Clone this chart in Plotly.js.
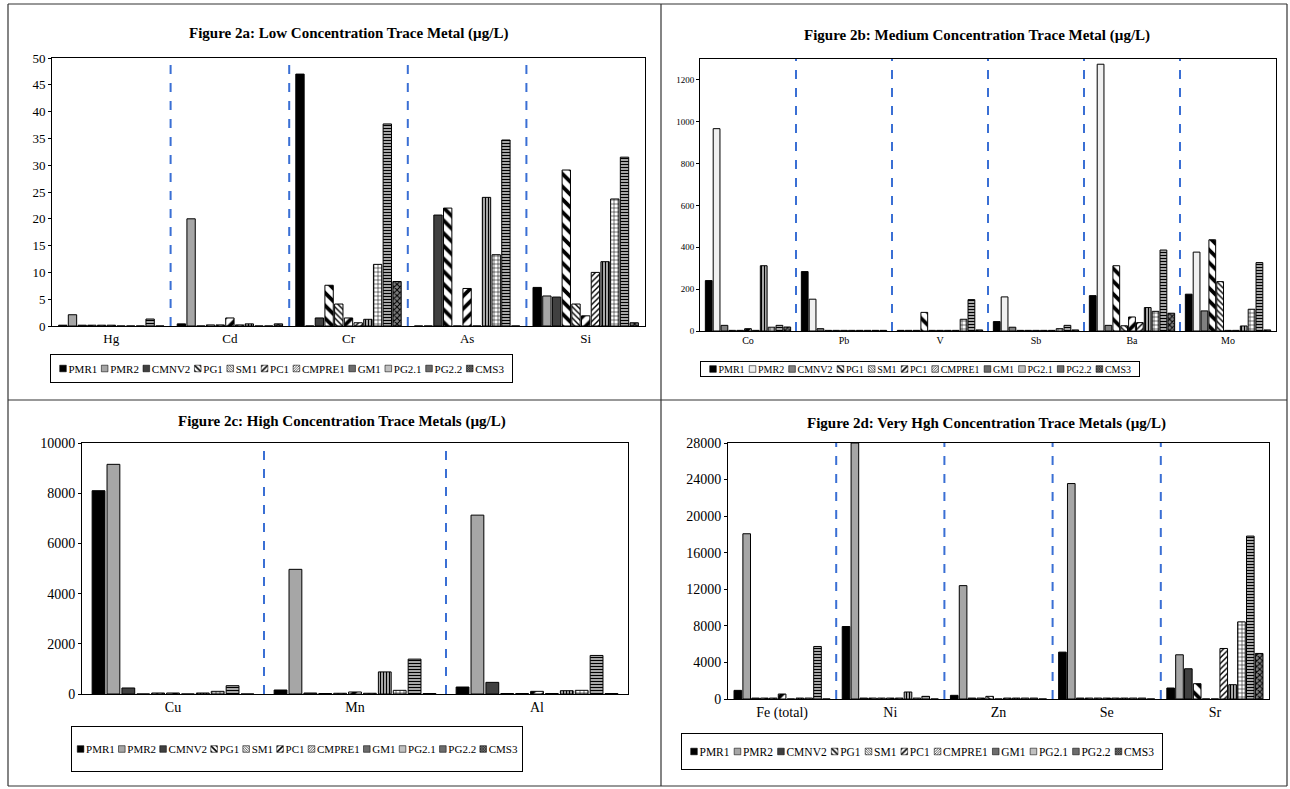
<!DOCTYPE html>
<html>
<head>
<meta charset="utf-8">
<script src="https://cdn.plot.ly/plotly-3.0.1.min.js"></script>
<style>
html,body{margin:0;padding:0;background:#fff;}
#chart{width:1290px;height:789px;}
</style>
</head>
<body>
<div id="chart"></div>
<script>
// ---------------- DATA ----------------
const seriesNames = ['PMR1','PMR2','CMNV2','PG1','SM1','PC1','CMPRE1','GM1','PG2.1','PG2.2','CMS3'];

// Figure 2a: Low concentration (µg/L), one array per metal, values in seriesNames order
const lowCats = ['Hg','Cd','Cr','As','Si'];
const lowHg = [0.15, 2.1, 0.15, 0.15, 0.15, 0.15, 0, 0, 0, 1.3, 0];
const lowCd = [0.4, 20, 0, 0.2, 0.2, 1.5, 0.2, 0.4, 0, 0, 0.4];
const lowCr = [47, 0, 1.5, 7.6, 4.1, 1.5, 0.6, 1.25, 11.5, 37.7, 8.3];
const lowAs = [0, 0, 20.7, 22.0, 0, 7.0, 0, 24.0, 13.3, 34.7, 0];
const lowSi = [7.2, 5.6, 5.4, 29.1, 4.1, 1.9, 10.0, 12.0, 23.7, 31.5, 0.6];

// Figure 2b: Medium concentration
const medCats = ['Co','Pb','V','Sb','Ba','Mo'];
const medCo = [241, 967, 27, 3, 3, 11, 3, 312, 18, 27, 19];
const medPb = [284, 152, 11, 3, 3, 3, 3, 3, 3, 3, 3];
const medV  = [3, 3, 3, 89, 3, 3, 3, 3, 56, 150, 5];
const medSb = [45, 163, 18, 3, 3, 3, 3, 3, 11, 27, 5];
const medBa = [169, 1275, 27, 312, 25, 67, 40, 112, 94, 387, 85];
const medMo = [176, 377, 96, 436, 236, 3, 3, 24, 104, 327, 5];

// Figure 2c: High concentration
const highCats = ['Cu','Mn','Al'];
const highCu = [8100, 9150, 240, 0, 40, 40, 0, 40, 106, 331, 0];
const highMn = [159, 4967, 40, 20, 30, 80, 30, 880, 146, 1390, 20];
const highAl = [278, 7126, 464, 20, 20, 106, 20, 132, 146, 1536, 20];

// Figure 2d: Very high concentration
const vhighCats = ['Fe (total)','Ni','Zn','Se','Sr'];
const vhFe = [945, 18073, 100, 100, 100, 545, 0, 100, 100, 5745, 0];
const vhNi = [7927, 28000, 100, 100, 100, 100, 100, 764, 100, 290, 0];
const vhZn = [400, 12400, 100, 100, 290, 0, 100, 100, 100, 100, 0];
const vhSe = [5127, 23564, 100, 100, 100, 100, 100, 100, 100, 100, 0];
const vhSr = [1200, 4836, 3309, 1673, 0, 0, 5527, 1564, 8436, 17818, 4982];

const panelTitles = [
  'Figure 2a: Low Concentration Trace Metal (µg/L)',
  'Figure 2b: Medium Concentration Trace Metal (µg/L)',
  'Figure 2c: High Concentration Trace Metals (µg/L)',
  'Figure 2d: Very Hgh Concentration Trace Metals (µg/L)'
];

// ---------------- STYLE / LAYOUT ----------------
const W = 1290, H = 789;
const SERIF = 'Liberation Serif, Times New Roman, serif';
function dx(a, b) { return [a / W, b / W]; }
function dy(top, bot) { return [1 - bot / H, 1 - top / H]; }

const styles = [
  {color:'#000000'},
  {color:'#a6a6a6', colorB:'#f0f0f0'},
  {color:'#404040', colorB:'#808080'},
  {shape:'\\', bg:'#ffffff', fg:'#000000', size:9, sol:0.42},
  {shape:'\\', bg:'#ffffff', fg:'#000000', size:4, sol:0.35},
  {shape:'/',  bg:'#ffffff', fg:'#000000', size:9, sol:0.42},
  {shape:'/',  bg:'#ffffff', fg:'#000000', size:4, sol:0.35},
  {shape:'|',  bg:'#a6a6a6', fg:'#000000', size:3, sol:0.35},
  {shape:'+',  bg:'#ffffff', fg:'#000000', size:4, sol:0.25},
  {shape:'-',  bg:'#a6a6a6', fg:'#000000', size:3, sol:0.35},
  {shape:'x',  bg:'#7f7f7f', fg:'#000000', size:4, sol:0.45}
];

const panels = [
  {cats: lowCats, vals: [lowHg, lowCd, lowCr, lowAs, lowSi], xa:'x', ya:'y', leg:'legend',
   xdom: dx(52,645), ydom: dy(58,326), range:[0,50], dtick:5, tickSize:13, catSize:13, legSize:11,
   title:{x:348, y:33}, box:[50,354,513,383], isB:false},
  {cats: medCats, vals: [medCo, medPb, medV, medSb, medBa, medMo], xa:'x2', ya:'y2', leg:'legend2',
   xdom: dx(700,1276), ydom: dy(59,331), range:[0,1300], dtick:200, tickSize:9, catSize:10, legSize:10,
   title:{x:977, y:35}, box:[700,361,1140,377], isB:true},
  {cats: highCats, vals: [highCu, highMn, highAl], xa:'x3', ya:'y3', leg:'legend3',
   xdom: dx(82,628), ydom: dy(443,694), range:[0,10000], dtick:2000, tickSize:14, catSize:14, legSize:11,
   title:{x:342, y:421}, box:[71,726,523,772], isB:false},
  {cats: vhighCats, vals: [vhFe, vhNi, vhZn, vhSe, vhSr], xa:'x4', ya:'y4', leg:'legend4',
   xdom: dx(728,1269), ydom: dy(443,699), range:[0,28000], dtick:4000, tickSize:14, catSize:14, legSize:11.5,
   title:{x:986, y:423}, box:[681,733,1163,770], isB:false}
];

const traces = [];
panels.forEach(function(p) {
  seriesNames.forEach(function(name, j) {
    const st = styles[j];
    const marker = {line:{color:'#000000', width:1}};
    if (st.shape) {
      marker.color = st.bg;
      marker.pattern = {shape: st.shape, fgcolor: st.fg, bgcolor: st.bg, size: st.size, solidity: st.sol, fillmode:'replace'};
    } else {
      marker.color = (p.isB && st.colorB) ? st.colorB : st.color;
    }
    traces.push({
      type:'bar', name:name, x:p.cats, y:p.vals.map(function(arr){ return arr[j]; }),
      xaxis:p.xa, yaxis:p.ya, legend:p.leg, marker:marker, hoverinfo:'skip', cliponaxis:true
    });
  });
});

const layout = {
  width: W, height: H,
  margin:{l:0, r:0, t:0, b:0, pad:0, autoexpand:false},
  paper_bgcolor:'#ffffff', plot_bgcolor:'#ffffff',
  barmode:'group', bargap:0.1, bargroupgap:0.14,
  font:{family:SERIF, color:'#000000'},
  hovermode:false,
  shapes:[], annotations:[]
};

panels.forEach(function(p, i) {
  const sfx = i === 0 ? '' : String(i + 1);
  layout['xaxis' + sfx] = {
    domain:p.xdom, anchor:p.ya, type:'category', showline:true, mirror:true, linecolor:'#000000', linewidth:1,
    ticks:'', showgrid:false, zeroline:false, tickfont:{family:SERIF, size:p.catSize, color:'#000000'}, fixedrange:true,
    automargin:false
  };
  layout['yaxis' + sfx] = {
    domain:p.ydom, anchor:p.xa, range:p.range, dtick:p.dtick, tickformat:'d', showgrid:false, zeroline:false,
    showline:true, mirror:true, linecolor:'#000000', linewidth:1, ticks:'outside', ticklen:3, tickcolor:'#000000',
    tickfont:{family:SERIF, size:p.tickSize, color:'#000000'}, fixedrange:true, automargin:false
  };
  layout[p.leg] = {
    orientation:'h', x:p.box[0] / W, y:1 - p.box[1] / H, xanchor:'left', yanchor:'top',
    bordercolor:'#000000', borderwidth:1, bgcolor:'#ffffff', itemwidth:30,
    font:{family:SERIF, size:p.legSize, color:'#000000'}, traceorder:'normal', itemclick:false, itemdoubleclick:false
  };
  for (let k = 1; k < p.cats.length; k++) {
    layout.shapes.push({type:'line', xref:p.xa, yref:p.ya + ' domain', x0:k - 0.5, x1:k - 0.5, y0:0, y1:1,
      line:{color:'#3a6fd4', width:2, dash:'dash'}, layer:'above'});
  }
  layout.annotations.push({xref:'paper', yref:'paper', x:p.title.x / W, y:1 - p.title.y / H,
    xanchor:'center', yanchor:'middle', showarrow:false, text:'<b>' + panelTitles[i] + '</b>',
    font:{family:SERIF, size:15, color:'#000000'}});
});

// panel frames
const frameLines = [
  [8, 4, 1287, 4], [8, 786, 1287, 786], [8, 4, 8, 786], [1287, 4, 1287, 786],
  [661, 4, 661, 786], [8, 400, 1287, 400]
];
frameLines.forEach(function(l) {
  layout.shapes.push({type:'line', xref:'paper', yref:'paper', x0:l[0] / W, x1:l[2] / W, y0:1 - l[1] / H, y1:1 - l[3] / H,
    line:{color:'#333333', width:1.2}});
});

// compact legends to look like the original single-row boxed legends
function compactLegends(gd) {
  panels.forEach(function(p) {
    try {
      const g = gd.querySelector('g.' + p.leg);
      if (!g) return;
      const items = Array.prototype.slice.call(g.querySelectorAll('g.traces'));
      if (!items.length) return;
      const b = p.box, bw = b[2] - b[0], bh = b[3] - b[1];
      const symX = 4, textX = 9.5;
      const widths = items.map(function(it) {
        const t = it.querySelector('text');
        if (!t) return 40;
        t.setAttribute('x', textX);
        t.querySelectorAll('tspan').forEach(function(ts){ if (ts.hasAttribute('x')) ts.setAttribute('x', textX); });
        it.querySelectorAll('g[class$="points"] path').forEach(function(pa) {
          pa.setAttribute('transform', 'translate(' + symX + ',0) scale(0.55)');
        });
        return textX + t.getComputedTextLength();
      });
      const sum = widths.reduce(function(s, w){ return s + w; }, 0);
      let gap = (bw - 18 - sum) / (items.length - 1);
      if (gap < 3) gap = 3;
      const total = sum + gap * (items.length - 1);
      let x = (bw - total) / 2;
      items.forEach(function(it, k) {
        it.setAttribute('transform', 'translate(' + x + ',' + (bh / 2) + ')');
        x += widths[k] + gap;
      });
      const bg = g.querySelector(':scope > rect.bg') || g.querySelector(':scope > rect');
      if (bg) { bg.setAttribute('x', 0.5); bg.setAttribute('y', 0.5); bg.setAttribute('width', bw - 1); bg.setAttribute('height', bh - 1); }
      g.querySelectorAll('g[class*="scrollbox"]').forEach(function(sb) { sb.removeAttribute('clip-path'); sb.setAttribute('transform', 'translate(0,0)'); });
      g.querySelectorAll('rect[class*="scrollbar"]').forEach(function(r) { r.setAttribute('width', 0); });
      g.setAttribute('transform', 'translate(' + b[0] + ',' + b[1] + ')');
    } catch (e) { console.log(e); }
  });
}

const gd = document.getElementById('chart');
Plotly.newPlot(gd, traces, layout, {displayModeBar:false, responsive:false}).then(function() {
  compactLegends(gd);
  gd.on('plotly_afterplot', function(){ compactLegends(gd); });
  setTimeout(function(){ compactLegends(gd); }, 50);
  setTimeout(function(){ compactLegends(gd); }, 300);
});
</script>
</body>
</html>
